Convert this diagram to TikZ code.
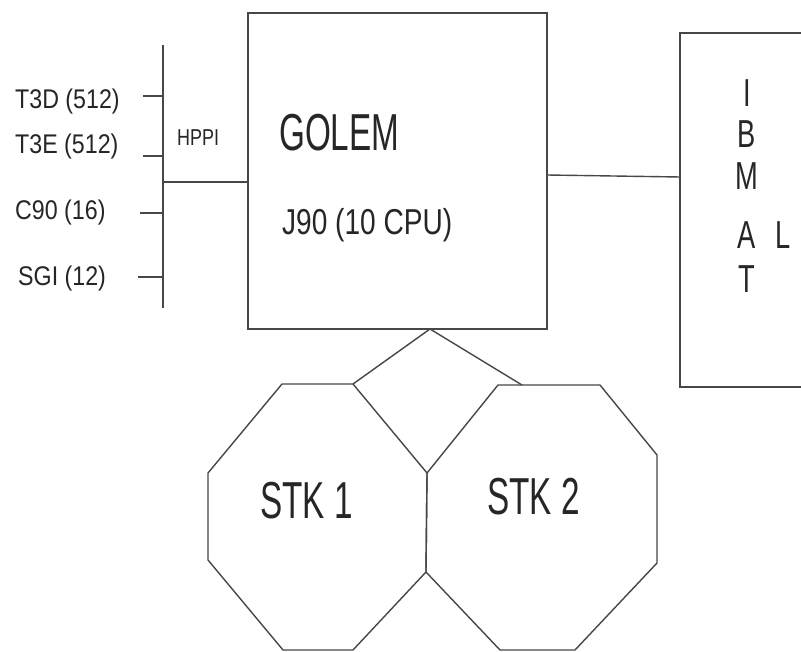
\documentclass[tikz,border=0pt]{standalone}
\usepackage{fontspec}
\newfontfamily\narA[FakeStretch=0.64]{Liberation Sans}
\newfontfamily\narB[FakeStretch=0.78]{Liberation Sans}
\newfontfamily\narC[FakeStretch=0.86]{Liberation Sans}
\newfontfamily\narD[FakeStretch=0.7]{Liberation Sans}
\begin{document}
\begin{tikzpicture}[x=1pt,y=-1pt,
  ln/.style={draw=black!72, line width=1.4pt},
  txt/.style={inner sep=0pt, text=black!85},
  lbl/.style={txt, anchor=west, font=\narC\fontsize{27}{27}\selectfont},
  big/.style={txt, anchor=west, font=\narA\fontsize{52}{52}\selectfont},
  vl/.style={txt, font=\narD\fontsize{39}{39}\selectfont}]
\useasboundingbox (0,0) rectangle (801,652);
\fill[white] (0,0) rectangle (801,652);
\clip (0,0) rectangle (801,652);
% boxes
\node[ln, rectangle, minimum width=299pt, minimum height=316pt, inner sep=0pt] (golem) at (397.5,171) {};
\node[ln, rectangle, minimum width=170pt, minimum height=354pt, inner sep=0pt] (ibm) at (765,210) {};
% texts
\node[big] (tgolem) at (279,133) {GOLEM};
\node[txt, anchor=west, font=\narB\fontsize{36}{36}\selectfont] (tj90) at (282,225) {J90 (10 CPU)};
\node[lbl] (t3d) at (15,102) {T3D (512)};
\node[lbl] (t3e) at (15,147) {T3E (512)};
\node[lbl] (c90) at (15,213) {C90 (16)};
\node[lbl] (sgi) at (18,279) {SGI (12)};
\node[txt, anchor=west, font=\narB\fontsize{23}{23}\selectfont] (hppi) at (177,138) {HPPI};
\node[vl] (li) at (747,93) {I};
\node[vl] (lb) at (747,134) {B};
\node[vl] (lm) at (747,176) {M};
\node[vl] (la) at (747,235) {A};
\node[vl] (lt) at (747,279) {T};
\node[vl] (ll) at (783,235) {L};
% bus
\coordinate (bt) at (163,45);
\coordinate (bb) at (163,308);
\coordinate (bj) at (163,182);
\draw[ln] (bt) -- (bb);
\coordinate (k1) at (143,96);
\coordinate (k2) at (143,156);
\coordinate (k3) at (140,213);
\coordinate (k4) at (138,277);
\draw[ln] (k1) -- (k1 -| bt);
\draw[ln] (k2) -- (k2 -| bt);
\draw[ln] (k3) -- (k3 -| bt);
\draw[ln] (k4) -- (k4 -| bt);
\draw[ln] (bj) -- (bj -| golem.west);
% golem to ibm
\coordinate (gr) at (547,175);
\coordinate (il) at (680,177);
\draw[ln] (gr) -- (il);
% octagons
\coordinate (apex) at (430,329);
\coordinate (o1a) at (282,384);
\coordinate (o1b) at (353,384);
\coordinate (mj) at (427,473);
\coordinate (mk) at (426,572);
\coordinate (o1e) at (353,650);
\coordinate (o1f) at (283,650);
\coordinate (o1g) at (208,560);
\coordinate (o1h) at (208,473);
\coordinate (o2a) at (498,385);
\coordinate (o2b) at (600,385);
\coordinate (o2c) at (657,455);
\coordinate (o2d) at (657,563);
\coordinate (o2e) at (575,650);
\coordinate (o2f) at (500,650);
\coordinate (o2t) at (522,385);
\draw[ln, line join=round] (o1a) -- (o1b) -- (mj) -- (mk) -- (o1e) -- (o1f) -- (o1g) -- (o1h) -- cycle;
\draw[ln, line join=round] (o2a) -- (o2b) -- (o2c) -- (o2d) -- (o2e) -- (o2f) -- (mk) -- (mj) -- cycle;
\draw[ln] (o1b) -- (apex) -- (o2t);
\node[big] (stk1) at (260,501) {STK 1};
\node[big] (stk2) at (487,497) {STK 2};
\end{tikzpicture}
\end{document}
